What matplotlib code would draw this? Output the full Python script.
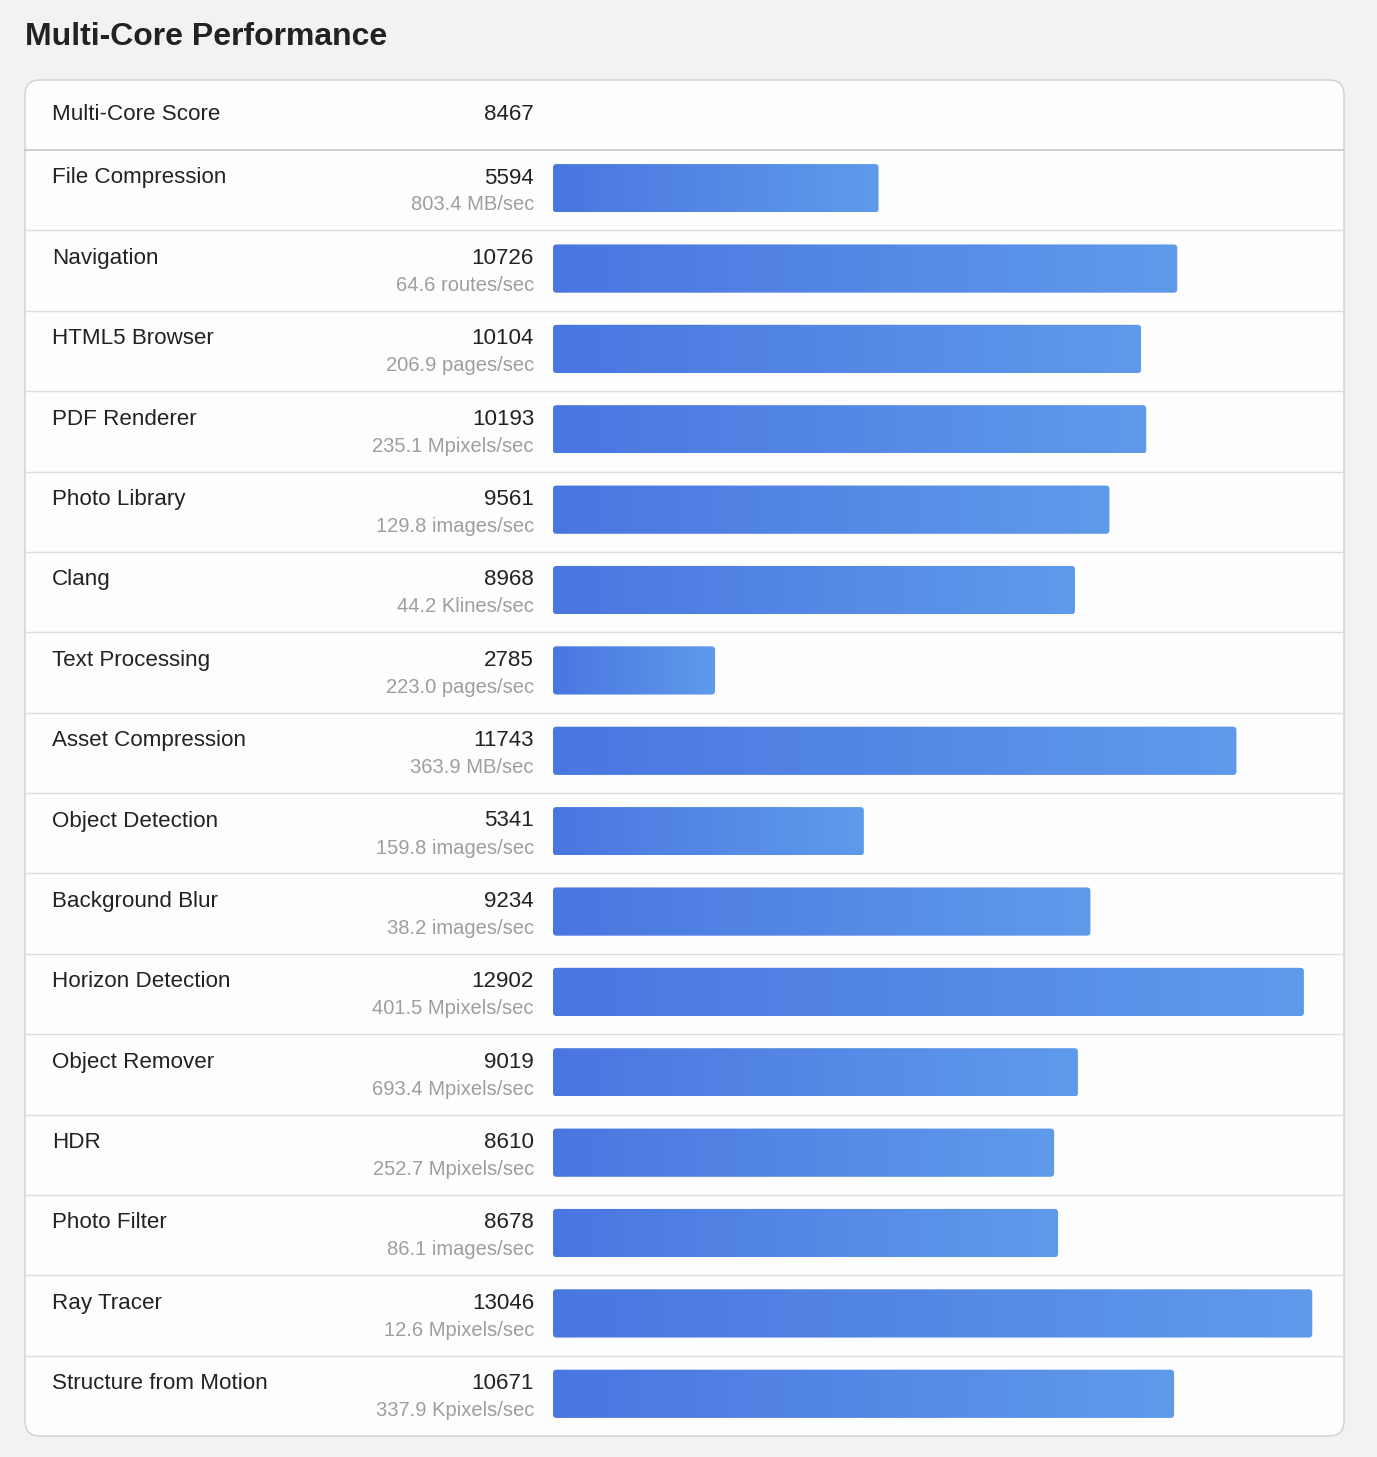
import numpy as np
import matplotlib

matplotlib.use("Agg")
import matplotlib.pyplot as plt
from matplotlib.patches import FancyBboxPatch
from matplotlib.colors import LinearSegmentedColormap

plt.rcParams["font.family"] = ["Liberation Sans", "DejaVu Sans"]

# Data
title = "Multi-Core Performance"
overall_label = "Multi-Core Score"
overall_score = 8467
workloads = ["File Compression", "Navigation", "HTML5 Browser", "PDF Renderer",
             "Photo Library", "Clang", "Text Processing", "Asset Compression",
             "Object Detection", "Background Blur", "Horizon Detection",
             "Object Remover", "HDR", "Photo Filter", "Ray Tracer",
             "Structure from Motion"]
scores = [5594, 10726, 10104, 10193, 9561, 8968, 2785, 11743,
          5341, 9234, 12902, 9019, 8610, 8678, 13046, 10671]
throughput = ["803.4 MB/sec", "64.6 routes/sec", "206.9 pages/sec",
              "235.1 Mpixels/sec", "129.8 images/sec", "44.2 Klines/sec",
              "223.0 pages/sec", "363.9 MB/sec", "159.8 images/sec",
              "38.2 images/sec", "401.5 Mpixels/sec", "693.4 Mpixels/sec",
              "252.7 Mpixels/sec", "86.1 images/sec", "12.6 Mpixels/sec",
              "337.9 Kpixels/sec"]

W, H = 1377, 1457
fig = plt.figure(figsize=(W / 100, H / 100), dpi=100)
fig.patch.set_facecolor("#f2f2f2")

# background axes in pixel coords for the card / text layout
bg = fig.add_axes([0, 0, 1, 1])
bg.set_xlim(0, W)
bg.set_ylim(H, 0)
bg.axis("off")

card_l, card_r, card_t, card_b = 25, 1344, 80, 1436
head_b = 150
n = len(workloads)
row_h = (card_b - head_b) / n

card = FancyBboxPatch((card_l, card_t), card_r - card_l, card_b - card_t,
                      boxstyle="round,pad=0,rounding_size=15",
                      facecolor="#fdfdfd", edgecolor="#d0d0d0", linewidth=1.0, zorder=1)
bg.add_patch(card)

bg.text(card_l, 37, title, fontsize=23, fontweight="bold", color="#222222",
        ha="left", va="center")

name_x, score_x = 52, 534
fs = 16.1
bg.text(name_x, 115, overall_label, fontsize=fs, color="#222222", ha="left", va="center", zorder=3)
bg.text(score_x, 115, str(overall_score), fontsize=fs, color="#222222", ha="right", va="center", zorder=3)
bg.plot([card_l, card_r], [head_b, head_b], color="#c8c8c8", lw=1.2, zorder=2)

for i, (name, sc, tp) in enumerate(zip(workloads, scores, throughput)):
    top = head_b + i * row_h
    if i > 0:
        bg.plot([card_l, card_r], [top, top], color="#dddddd", lw=1.0, zorder=2)
    bg.text(name_x, top + 28, name, fontsize=fs, color="#222222", ha="left", va="center", zorder=3)
    bg.text(score_x, top + 28, str(sc), fontsize=fs, color="#222222", ha="right", va="center", zorder=3)
    bg.text(score_x, top + 55, tp, fontsize=14.5, color="#9e9e9e", ha="right", va="center", zorder=3)

# bar axes: about 0.0582 px per point
bar_l = 553
x_max = (card_r - bar_l) / 0.0582
ax = fig.add_axes([bar_l / W, 1 - card_b / H, (card_r - bar_l) / W, (card_b - head_b) / H])
ax.set_xlim(0, x_max)
ax.set_ylim(n - 0.5, -0.5)
ax.axis("off")
ax.patch.set_alpha(0)

ypos = np.arange(n) - 0.025
bars = ax.barh(ypos, scores, height=0.6, color="none", edgecolor="none")

cmap = LinearSegmentedColormap.from_list("bar", ["#4a76e0", "#5f9aeb"])
grad = np.linspace(0, 1, 256).reshape(1, -1)
px_x = (card_r - bar_l) / x_max
px_y = row_h
r = 3.5
for b in bars:
    x0, y0 = b.get_x(), b.get_y()
    w, h = b.get_width(), b.get_height()
    rr = r / px_x
    patch = FancyBboxPatch((x0, y0), w, h,
                           boxstyle=f"round,pad=0,rounding_size={rr}",
                           mutation_aspect=(r / px_y) / rr,
                           facecolor="none", edgecolor="none")
    ax.add_patch(patch)
    im = ax.imshow(grad, cmap=cmap, aspect="auto", extent=(x0, x0 + w, y0 + h, y0),
                   interpolation="bilinear", zorder=2)
    im.set_clip_path(patch)

ax.set_xlim(0, x_max)
ax.set_ylim(n - 0.5, -0.5)

fig.savefig("out.png", dpi=100, facecolor=fig.get_facecolor())
